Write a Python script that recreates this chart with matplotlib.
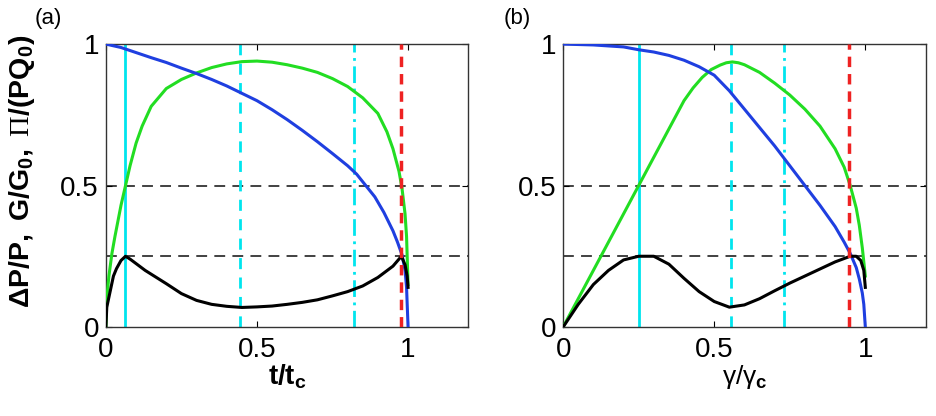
import numpy as np
import matplotlib
matplotlib.use("Agg")
import matplotlib.pyplot as plt

plt.rcParams['font.family'] = ['Liberation Sans', 'DejaVu Sans']
plt.rcParams['mathtext.fontset'] = 'custom'
plt.rcParams['mathtext.rm'] = 'Liberation Serif'
plt.rcParams['mathtext.it'] = 'Liberation Sans:italic'
plt.rcParams['mathtext.bf'] = 'Liberation Sans:bold'

# ---- panel (a): vs t/t_c
ta_blue = [0, 0.05, 0.1, 0.15, 0.2, 0.25, 0.3, 0.35, 0.4, 0.45, 0.5, 0.55, 0.6, 0.65, 0.7, 0.75,
           0.8, 0.83, 0.86, 0.89, 0.92, 0.95, 0.965, 0.98, 0.99, 0.995, 1.0]
pa_blue = [1, 0.988, 0.97, 0.952, 0.935, 0.915, 0.896, 0.875, 0.852, 0.826, 0.8, 0.768, 0.733, 0.695,
           0.655, 0.613, 0.57, 0.54, 0.5, 0.46, 0.405, 0.34, 0.3, 0.255, 0.2, 0.14, 0.0]

ta_green = [0, 0.003, 0.01, 0.02, 0.03, 0.05, 0.065, 0.08, 0.1, 0.12, 0.15, 0.2, 0.25, 0.3, 0.35,
            0.4, 0.45, 0.5, 0.55, 0.6, 0.65, 0.7, 0.75, 0.8, 0.85, 0.9, 0.93, 0.95, 0.97, 0.98, 0.99,
            0.995, 1.0]
ga_green = [0, 0.1, 0.18, 0.26, 0.32, 0.43, 0.5, 0.57, 0.65, 0.71, 0.78, 0.843, 0.875, 0.898, 0.917,
            0.93, 0.938, 0.94, 0.936, 0.927, 0.915, 0.9, 0.878, 0.85, 0.81, 0.755, 0.69, 0.63, 0.55,
            0.49, 0.4, 0.32, 0.15]

ta_black = [0, 0.003, 0.013, 0.025, 0.035, 0.05, 0.065, 0.08, 0.1, 0.13, 0.2, 0.25, 0.3, 0.35, 0.4,
            0.45, 0.5, 0.55, 0.6, 0.65, 0.7, 0.75, 0.8, 0.85, 0.9, 0.95, 0.978, 0.99, 0.997, 1.0]
pi_a = [0, 0.07, 0.12, 0.18, 0.206, 0.235, 0.25, 0.24, 0.224, 0.2, 0.153, 0.118, 0.094, 0.08, 0.073,
        0.069, 0.071, 0.074, 0.08, 0.087, 0.096, 0.11, 0.125, 0.145, 0.175, 0.215, 0.25, 0.22, 0.18, 0.14]

vlines_a = [0.063, 0.444, 0.82, 0.977]

# ---- panel (b): vs gamma/gamma_c
gb_blue = [0, 0.1, 0.2, 0.25, 0.3, 0.35, 0.4, 0.45, 0.5, 0.55, 0.6, 0.65, 0.7, 0.75, 0.8, 0.85,
           0.9, 0.93, 0.95, 0.97, 0.98, 0.99, 0.995, 1.0]
pb_blue = [1, 0.997, 0.99, 0.98, 0.972, 0.96, 0.943, 0.92, 0.89, 0.835, 0.77, 0.705, 0.64, 0.57,
           0.5, 0.43, 0.355, 0.3, 0.26, 0.21, 0.17, 0.12, 0.08, 0.0]

gb_green = [0, 0.25, 0.4, 0.43, 0.46, 0.49, 0.52, 0.54, 0.56, 0.58, 0.6, 0.65, 0.7, 0.75, 0.8, 0.85,
            0.9, 0.93, 0.95, 0.97, 0.98, 0.99, 0.995, 1.0]
gg_green = [0, 0.5, 0.8, 0.845, 0.882, 0.91, 0.926, 0.934, 0.937, 0.934, 0.927, 0.9, 0.862, 0.82, 0.77,
            0.71, 0.63, 0.565, 0.5, 0.42, 0.36, 0.28, 0.23, 0.18]

gb_black = [0, 0.05, 0.1, 0.15, 0.2, 0.25, 0.3, 0.35, 0.4, 0.45, 0.5, 0.55, 0.6, 0.65, 0.7, 0.75,
            0.8, 0.85, 0.9, 0.95, 0.97, 0.985, 0.995, 1.0]
pi_b = [0, 0.08, 0.15, 0.2, 0.237, 0.25, 0.25, 0.222, 0.172, 0.125, 0.09, 0.07, 0.078, 0.1, 0.128,
        0.155, 0.18, 0.205, 0.23, 0.25, 0.25, 0.235, 0.2, 0.14]

vlines_b = [0.25, 0.555, 0.731, 0.946]

blue = '#1f3fe0'
green = '#22dd22'
cyan = '#00e5ee'
red = '#ee2222'

fig = plt.figure(figsize=(9.37, 4.16), dpi=100)
axa = fig.add_axes([0.113, 0.214, 0.387, 0.68])
axb = fig.add_axes([0.601, 0.214, 0.387, 0.68])


def panel(ax, xb, yb, xg, yg, xk, yk, vl):
    for y in [0.25, 0.5]:
        ax.axhline(y, color='#333333', lw=1.3, ls=(0, (6, 4)), zorder=1)
    ax.plot(xg, yg, color=green, lw=2.2, zorder=3)
    ax.plot(xb, yb, color=blue, lw=2.2, zorder=3)
    ax.plot(xk, yk, color='k', lw=2.2, zorder=4)
    ax.axvline(vl[0], color=cyan, lw=2, ls='-', zorder=2)
    ax.axvline(vl[1], color=cyan, lw=2, ls=(0, (4, 3)), zorder=2)
    ax.axvline(vl[2], color=cyan, lw=2, ls=(0, (6, 2, 1, 2)), zorder=2)
    ax.axvline(vl[3], color=red, lw=2.5, ls=(0, (3, 2)), zorder=5)
    ax.set_xlim(0, 1.2)
    ax.set_ylim(0, 1)
    ax.set_xticks([0, 0.5, 1])
    ax.set_xticklabels(['0', '0.5', '1'])
    ax.set_yticks([0, 0.5, 1])
    ax.set_yticklabels(['0', '0.5', '1'])
    ax.tick_params(direction='in', length=4, labelsize=20, top=True, right=True)
    ax.tick_params(axis='x', pad=7)
    ax.tick_params(axis='y', pad=5)
    for s in ax.spines.values():
        s.set_linewidth(1.0)
        s.set_color('#333333')


panel(axa, ta_blue, pa_blue, ta_green, ga_green, ta_black, pi_a, vlines_a)
panel(axb, gb_blue, pb_blue, gb_green, gg_green, gb_black, pi_b, vlines_b)

axa.set_xlabel(r'$\mathbf{t/t_c}$', fontsize=20, labelpad=0)
axb.set_xlabel(r'γ/γ$_\mathbf{c}$', fontsize=19, labelpad=0)
axa.set_ylabel(r'$\mathbf{\Delta P/P,\ G/G_0,\ }\mathrm{\Pi}\mathbf{/(PQ_0)}$', fontsize=20.5)
axa.yaxis.set_label_coords(-0.19, 0.55)

fig.text(0.037, 0.955, '(a)', fontsize=16, ha='left', va='center')
fig.text(0.538, 0.955, '(b)', fontsize=16, ha='left', va='center')

fig.savefig('out.png', dpi=100)
